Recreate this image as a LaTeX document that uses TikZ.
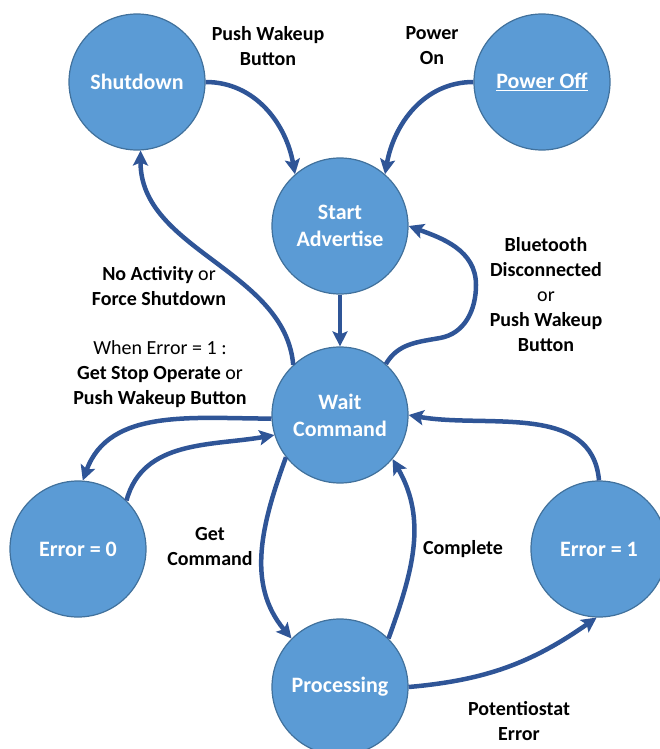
\documentclass[tikz,border=0pt]{standalone}
\usepackage{fontspec}
\setmainfont{Carlito}
\usepackage{tikz}
\usetikzlibrary{arrows.meta}
\definecolor{statefill}{HTML}{5B9BD5}
\definecolor{stateborder}{HTML}{41719C}
\definecolor{linkblue}{HTML}{2F5597}

\begin{document}
\begin{tikzpicture}[x=1pt, y=-1pt]
    \tikzstyle{state} = [circle, minimum size=136pt, inner sep=0pt, draw=stateborder, line width=1.2pt, fill=statefill, text=white, align=center, font=\bfseries\fontsize{22}{27}\selectfont]
    \tikzstyle{cond} = [align=center, inner sep=0pt, font=\fontsize{20}{25}\selectfont]
    \tikzstyle{link} = [-{Stealth[length=15pt, width=15pt, inset=3pt]}, draw=linkblue, line width=4.5pt]

    \useasboundingbox (0,0) rectangle (659,749);

    % States
    \node [state] (shutdown) at (137,82) {Shutdown};
    \node [state] (poweroff) at (542,82) {\underline{Power Off}};
    \node [state] (start) at (340,226) {Start\\Advertise};
    \node [state] (wait) at (340,415) {Wait\\Command};
    \node [state] (error0) at (78,549) {Error = 0};
    \node [state] (error1) at (599,549) {Error = 1};
    \node [state] (processing) at (340,687) {Processing};

    % Conditions
    \node [cond] (c_wakeup) at (268,46) {\textbf{Push Wakeup}\\\textbf{Button}};
    \node [cond] (c_poweron) at (432,46) {\textbf{Power}\\\textbf{On}};
    \node [cond] (c_noact) at (159,286) {\textbf{No Activity} or\\\textbf{Force Shutdown}};
    \node [cond] (c_stop) at (160,374) {When Error = 1 :\\\textbf{Get Stop Operate} or\\\textbf{Push Wakeup Button}};
    \node [cond] (c_bt) at (546,295) {\textbf{Bluetooth}\\\textbf{Disconnected}\\or\\\textbf{Push Wakeup}\\\textbf{Button}};
    \node [cond] (c_getcmd) at (210,547) {\textbf{Get}\\\textbf{Command}};
    \node [cond] (c_complete) at (463,549) {\textbf{Complete}};
    \node [cond] (c_poterr) at (519,721) {\textbf{Potentiostat}\\\textbf{Error}};

    % Transitions
    \draw [link] (shutdown.east) to[out=0, in=100] (start.131);
    \draw [link] (poweroff.west) to[out=180, in=80] (start.49);
    \draw [link] (start) -- (wait);
    \draw [link] (wait.48) to[out=60, in=190] (440,338) to[out=10, in=-90] (476,285) to[out=90, in=-20] (start.east);
    \draw [link] (wait.133) .. controls (285,270) and (140,250) .. (shutdown.-87);
    \draw [link] (wait.183) to[out=180, in=70] (error0.86);
    \draw [link] (error0.45) to[out=75, in=190] (wait.197);
    \draw [link] (wait.218) to[out=250, in=130] (processing.135);
    \draw [link] (processing.45) to[out=70, in=-60] (wait.-40);
    \draw [link] (error1.north) to[out=95, in=-10] (wait.east);
    \draw [link] (processing.east) to[out=5, in=215] (error1.268);
\end{tikzpicture}
\end{document}
